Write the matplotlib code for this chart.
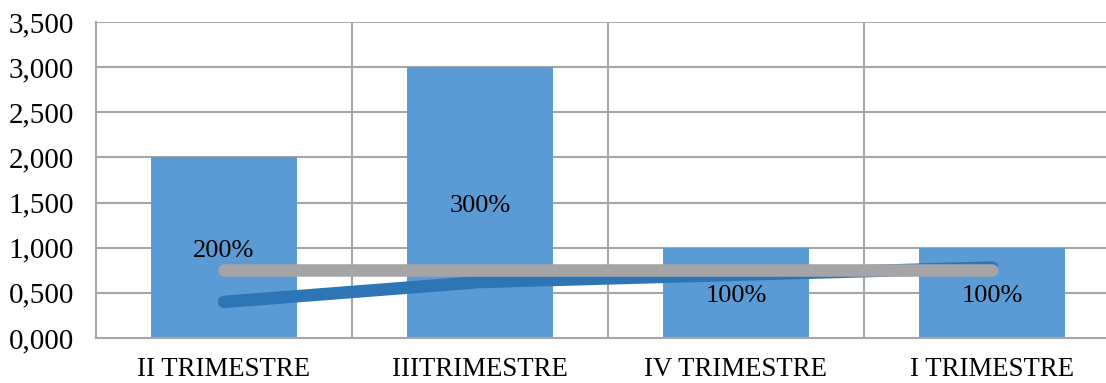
import matplotlib
matplotlib.use("Agg")
import matplotlib.pyplot as plt
import numpy as np

categories = ["II TRIMESTRE", "IIITRIMESTRE", "IV TRIMESTRE", "I TRIMESTRE"]
bar_values = [2.0, 3.0, 1.0, 1.0]
blue_line = [0.40, 0.62, 0.70, 0.78]
gray_line = [0.75, 0.75, 0.75, 0.75]
y_ticks = [0.0, 0.5, 1.0, 1.5, 2.0, 2.5, 3.0, 3.5]

plt.rcParams["font.family"] = ["Liberation Serif", "DejaVu Serif"]

fig = plt.figure(figsize=(11.06, 3.83), dpi=100)
ax = fig.add_axes([96 / 1106, 1 - 338 / 383, 1024 / 1106, 316 / 383])

x = np.arange(len(categories))
grid_c = "#A6A6A6"

ax.bar(x, bar_values, width=0.574, color="#5B9BD5", zorder=2)
ax.plot(x, blue_line, color="#2E75B6", lw=9, solid_capstyle="round", zorder=3)
ax.plot(x, gray_line, color="#A5A5A5", lw=9, solid_capstyle="round", zorder=4)

for xi, v in zip(x, bar_values):
    ax.text(xi, v / 2 - 0.04, f"{v * 100:.0f}%", ha="center", va="center",
            fontsize=19, color="black", zorder=5)

ax.set_xlim(-0.5, len(categories) - 0.5)
ax.set_ylim(0, 3.5)
ax.set_yticks(y_ticks)
ax.set_yticklabels([f"{v:.3f}".replace(".", ",") for v in y_ticks], fontsize=21)
ax.set_xticks(x)
ax.set_xticklabels(categories, fontsize=19.3)
ax.tick_params(axis="y", length=0, pad=16)
ax.tick_params(axis="x", length=0, pad=14)

for yv in y_ticks[1:]:
    ax.axhline(yv, color=grid_c, lw=1.5, zorder=1)
for xb in x[:-1] + 0.5:
    ax.axvline(xb, color=grid_c, lw=1.5, zorder=1)

for s in ["top", "right"]:
    ax.spines[s].set_visible(False)
for s in ["left", "bottom"]:
    ax.spines[s].set_color(grid_c)
    ax.spines[s].set_linewidth(1.5)

fig.savefig("out.png", dpi=100)
